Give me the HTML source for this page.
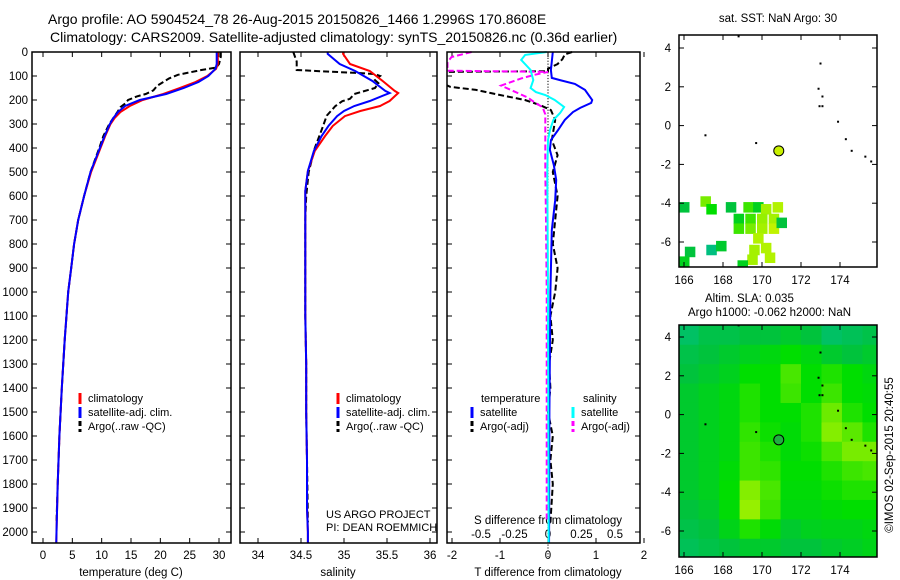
<!DOCTYPE html>
<html><head><meta charset="utf-8">
<style>
html,body{margin:0;padding:0;background:#fff;}
svg{display:block;font-family:"Liberation Sans",Arial,sans-serif;}
</style></head>
<body>
<svg id="c" width="900" height="580" viewBox="0 0 900 580" xmlns="http://www.w3.org/2000/svg">
<text x="48" y="24" font-size="14">Argo profile: AO 5904524_78 26-Aug-2015 20150826_1466 1.2996S 170.8608E</text>
<text x="50" y="42" font-size="14">Climatology: CARS2009. Satellite-adjusted climatology: synTS_20150826.nc (0.36d earlier)</text>
<text x="778" y="22" font-size="11.5" text-anchor="middle">sat. SST: NaN Argo: 30</text>
<text x="705" y="302" font-size="11.5">Altim. SLA: 0.035</text>
<text x="688" y="316" font-size="11.5">Argo h1000: -0.062 h2000: NaN</text>
<text transform="translate(893,455) rotate(-90)" font-size="11.5" text-anchor="middle">©IMOS 02-Sep-2015 20:40:55</text>
<text x="131" y="576" font-size="11.5" text-anchor="middle">temperature (deg C)</text>
<text x="338" y="576" font-size="11.5" text-anchor="middle">salinity</text>
<text x="548" y="576" font-size="11.5" text-anchor="middle">T difference from climatology</text>
<text x="548" y="524" font-size="11.5" text-anchor="middle">S difference from climatology</text>
<text x="326" y="518" font-size="11">US ARGO PROJECT</text>
<text x="326" y="531" font-size="11">PI: DEAN ROEMMICH</text>
</svg>
<script>
// ---- data ----
const depthTicks=[0,100,200,300,400,500,600,700,800,900,1000,1100,1200,1300,1400,1500,1600,1700,1800,1900,2000];
const tempTicks=[0,5,10,15,20,25,30];
const salTicks=[34,34.5,35,35.5,36];
const tdiffTicks=[-2,-1,0,1,2];
const sdiffTicks=[-0.5,-0.25,0,0.25,0.5];
const sdiffTickLabels=["-0.5","-0.25","0","0.25","0.5"];
const lonTicks=[166,168,170,172,174];
const latTicks=[4,2,0,-2,-4,-6];

const climTDepth=[0,50,70,100,125,150,175,200,225,250,275,300,350,400,500,600,700,800,900,1000,1200,1400,1600,1800,2000,2120];
const climT=[29.8,29.8,29.5,28,26,23.3,20.5,17,14.8,13.2,12.2,11.5,10.6,9.8,8.2,7,6,5.3,4.8,4.3,3.7,3.2,2.8,2.5,2.3,2.2];
const satT=[29.6,29.6,29.4,28.2,26.5,24,21,16.5,14,12.8,12,11.4,10.5,9.7,8.1,7,6,5.3,4.8,4.3,3.7,3.2,2.8,2.5,2.3,2.2];
const argoTDepth=[0,20,50,65,75,85,95,110,125,140,160,175,185,200,215,230,250,275,300,350,400,500,600,700,800,900,1000,1200,1400,1600,1800,1960];
const argoT=[30.3,30.3,30,29.5,27,25,23,21.5,20.5,19.5,18.8,17.5,16,14.5,14,13.2,12.7,12,11.3,10.3,9.6,8.1,7,6,5.3,4.8,4.3,3.7,3.2,2.8,2.5,2.3];

const climSDepth=[0,8,50,79,121,162,171,204,225,246,267,308,350,412,496,579,704,900,1100,1300,1500,1700,1900,2000,2120];
const climS=[34.99,34.99,35.07,35.3,35.45,35.59,35.63,35.53,35.42,35.19,35.01,34.87,34.78,34.66,34.58,34.55,34.55,34.55,34.55,34.56,34.56,34.57,34.57,34.58,34.58];
const satS=[34.81,34.81,34.95,35.13,35.33,35.48,35.53,35.3,35.12,35.0,34.92,34.82,34.74,34.65,34.58,34.55,34.55,34.55,34.55,34.56,34.56,34.57,34.57,34.58,34.58];
const argoSDepth=[0,40,75,80,88,92,100,117,130,150,175,195,205,225,265,325,400,500,600,700,900,1100,1300,1500,1700,1960];
const argoS=[34.41,34.45,34.45,34.72,35.19,35.36,35.42,35.36,35.4,35.36,35.12,35.07,34.98,34.9,34.8,34.74,34.66,34.59,34.56,34.55,34.55,34.55,34.56,34.56,34.57,34.58];

const satTdDepth=[0,75,108,117,133,158,200,212,233,250,283,325,367,408,471,533,617,742,1000,1500,2120];
const satTd=[0.1,0.06,0.08,0.25,0.56,0.77,0.92,0.9,0.67,0.52,0.35,0.21,0.06,0.04,0.12,0.17,0.15,0.08,0.05,0.03,0.02];
const satSdDepth=[0,12,33,75,117,150,167,179,200,229,254,283,325,367,500,1000,2120];
const satSd=[-0.01,-0.17,-0.2,-0.13,-0.11,-0.13,-0.09,-0.02,0.05,0.12,0.09,0.04,0.015,0,-0.005,0,0.005];
const argoTdDepth=[0,10,30,50,70,80,83,130,145,158,179,200,221,242,283,367,430,500,600,700,800,900,1000,1100,1200,1300,1400,1500,1600,1700,1800,1960];
const argoTd=[0.5,0.35,0.3,0.2,0.0,0.0,-2.2,-2.2,-2.04,-1.5,-1.0,-0.48,-0.17,0.06,0.15,0.08,0.2,0.1,0.2,0.15,0.1,0.2,0.15,0.05,0.1,0.02,0.05,0.0,0.1,0.05,0.1,0.05];
const argoSdDepth=[0,21,42,78,83,95,110,140,165,190,210,230,260,300,500,700,1000,1500,1960];
const argoSd=[-0.57,-0.72,-0.75,-0.75,0.0,-0.1,-0.2,-0.35,-0.25,-0.15,-0.1,-0.04,-0.02,-0.02,-0.02,-0.015,-0.01,-0.01,-0.01];

const sstLon=[166,167.1,167.4,168.4,169.3,169.8,170.2,170.8,168.8,169.4,170,170.6,168.8,169.4,170,170.6,169.8,170.2,169.6,170.4,169.5,169.0,166.3,166,167.4,167.9,171];
const sstLat=[-4.2,-3.9,-4.3,-4.2,-4.2,-4.2,-4.3,-4.2,-4.8,-4.8,-4.8,-4.8,-5.3,-5.3,-5.3,-5.3,-5.8,-6.3,-6.4,-6.8,-6.9,-7.2,-6.5,-7,-6.4,-6.2,-5];
const sstVal=[0.3,0.7,0.5,0.3,0.6,0.4,0.8,0.85,0.4,0.6,0.75,0.8,0.6,0.7,0.8,0.9,0.85,0.85,0.8,0.85,0.8,0.4,0.3,0.4,0.05,0.35,0.3];

const slaLats=[4.1,3.1,2.1,1.1,0.1,-0.9,-1.9,-2.9,-3.9,-4.9,-5.9,-6.9];
const slaGrid=[
[0.15,0.25,0.25,0.3,0.3,0.35,0.3,0.15,0.2,0.25],
[0.25,0.3,0.35,0.4,0.45,0.5,0.45,0.35,0.3,0.35],
[0.3,0.35,0.4,0.5,0.5,0.62,0.5,0.55,0.5,0.45],
[0.35,0.4,0.45,0.55,0.5,0.6,0.5,0.6,0.5,0.48],
[0.35,0.4,0.45,0.55,0.5,0.5,0.55,0.68,0.55,0.5],
[0.35,0.4,0.45,0.58,0.52,0.48,0.55,0.72,0.65,0.55],
[0.35,0.4,0.45,0.6,0.55,0.48,0.52,0.62,0.7,0.7],
[0.35,0.4,0.48,0.6,0.58,0.5,0.5,0.55,0.6,0.62],
[0.35,0.4,0.5,0.72,0.62,0.48,0.48,0.52,0.55,0.55],
[0.3,0.35,0.48,0.75,0.6,0.45,0.45,0.48,0.5,0.5],
[0.25,0.3,0.42,0.55,0.48,0.35,0.4,0.42,0.42,0.45],
[0.2,0.25,0.3,0.35,0.35,0.3,0.3,0.35,0.38,0.42]];
const slaLonStart=165.7;
const floatLon=170.86, floatLat=-1.3;

// ---- drawing ----
const svg=document.getElementById('c');
const NS='http://www.w3.org/2000/svg';
function mk(tag,at,parent){const e=document.createElementNS(NS,tag);for(const k in at)e.setAttribute(k,at[k]);(parent||svg).appendChild(e);return e;}
const yD=d=>52+0.24*d;
const xT=v=>43+5.867*v;
const xS=v=>258+86*(v-34);
const xTd=v=>548+48*v;
const xSd=v=>548+134*v;
const TOP=52,BOT=543;

function cmap(v){
  const stops=[[0,[0,190,140]],[0.3,[0,195,60]],[0.5,[0,222,0]],[0.75,[150,240,0]],[1,[220,245,0]]];
  v=Math.max(0,Math.min(1,v));
  for(let i=1;i<stops.length;i++){if(v<=stops[i][0]){const a=stops[i-1],b=stops[i],t=(v-a[0])/(b[0]-a[0]);
    return 'rgb('+a[1].map((c,j)=>Math.round(c+(b[1][j]-c)*t)).join(',')+')';}}
  return 'rgb(220,245,0)';
}

function panelFrame(x0,x1,name,xfn,ticks,labels,showDepth){
  const g=mk('g',{});
  
  
  const clip=mk('clipPath',{id:'clip-'+name},g);
  mk('rect',{x:x0,y:TOP-1,width:x1-x0,height:BOT-TOP+1},clip);
  depthTicks.forEach(d=>{
    mk('line',{x1:x0,x2:x0+5,y1:yD(d),y2:yD(d),stroke:'#000'},g);
    mk('line',{x1:x1-5,x2:x1,y1:yD(d),y2:yD(d),stroke:'#000'},g);
    if(showDepth){const t=mk('text',{x:x0-4,y:yD(d)+4,'font-size':11.5,'text-anchor':'end'},g);t.textContent=d;
      
      }
  });
  if(xfn){ticks.forEach((v,i)=>{const x=xfn(v);
    mk('line',{x1:x,x2:x,y1:BOT,y2:BOT-5,stroke:'#000'},g);
    mk('line',{x1:x,x2:x,y1:TOP,y2:TOP+5,stroke:'#000'},g);
    const t=mk('text',{x:x,y:BOT+16,'font-size':11.5,'text-anchor':'middle'},g);t.textContent=labels?labels[i]:v;
    
    
  });}
  return g;
}
function series(g,name,xfn,depths,vals,color,dash,clipName){
  const pts=depths.map((d,i)=>xfn(vals[i]).toFixed(1)+','+yD(d).toFixed(1)).join(' ');
  const p=mk('polyline',{points:pts,fill:'none',stroke:color,'stroke-width':2,'stroke-dasharray':dash||'none','clip-path':'url(#clip-'+clipName+')'},g);
  
  
}
function box(g,x0,y0,x1,y1){mk('rect',{x:x0,y:y0,width:x1-x0,height:y1-y0,fill:'none',stroke:'#000','stroke-width':1.5},g);}
function legend(g,x,y,items){items.forEach((it,i)=>{
  const yy=y+i*14;
  mk('line',{x1:x,x2:x,y1:yy-9,y2:yy+2,stroke:it[0],'stroke-width':3,'stroke-dasharray':it[2]?'5,3':'none'},g);
  const t=mk('text',{x:x+8,y:yy,'font-size':11},g);t.textContent=it[1];
  
  
});}

// Panel 1 temperature
const g1=panelFrame(32,231,'temperature-panel',xT,tempTicks,null,true);
series(g1,'argo-temperature',xT,argoTDepth,argoT,'#000','6,3','temperature-panel');
series(g1,'climatology-temperature',xT,climTDepth,climT,'#f00',null,'temperature-panel');
series(g1,'satellite-temperature',xT,climTDepth,satT,'#00f',null,'temperature-panel');
box(g1,32,TOP,231,BOT);
legend(g1,80,402,[['#f00','climatology'],['#00f','satellite-adj. clim.'],['#000','Argo(..raw -QC)',1]]);

// Panel 2 salinity
const g2=panelFrame(240,437,'salinity-panel',xS,salTicks,null,false);
series(g2,'argo-salinity',xS,argoSDepth,argoS,'#000','6,3','salinity-panel');
series(g2,'climatology-salinity',xS,climSDepth,climS,'#f00',null,'salinity-panel');
series(g2,'satellite-salinity',xS,climSDepth,satS,'#00f',null,'salinity-panel');
box(g2,240,TOP,437,BOT);
legend(g2,338,402,[['#f00','climatology'],['#00f','satellite-adj. clim.'],['#000','Argo(..raw -QC)',1]]);

// Panel 3 differences
const g3=panelFrame(447,640,'difference-panel',xTd,tdiffTicks,null,false);
sdiffTicks.forEach((v,i)=>{const t=mk('text',{x:xSd(v),y:538,'font-size':11.5,'text-anchor':'middle'},g3);t.textContent=sdiffTickLabels[i];
  
  });
for(let d=0;d<=2100;d+=12){mk('rect',{x:547.5,y:yD(d),width:1,height:1.2,fill:'#000'},g3);}
series(g3,'argo-t-diff',xTd,argoTdDepth,argoTd,'#000','6,3','difference-panel');
series(g3,'argo-s-diff',xSd,argoSdDepth,argoSd,'#f0f','6,3','difference-panel');
series(g3,'satellite-t-diff',xTd,satTdDepth,satTd,'#00f',null,'difference-panel');
series(g3,'satellite-s-diff',xSd,satSdDepth,satSd,'#0ff',null,'difference-panel');
box(g3,447,TOP,640,BOT);
{const t=mk('text',{x:481,y:402,'font-size':11},g3);t.textContent='temperature';
 
 
 const s=mk('text',{x:583,y:402,'font-size':11},g3);s.textContent='salinity';
 
 }
legend(g3,472,416,[['#00f','satellite'],['#000','Argo(-adj)',1]]);
legend(g3,573,416,[['#0ff','satellite'],['#f0f','Argo(-adj)',1]]);

// Maps
const MX0=679,MX1=877;
const lonX=l=>684+19.5*(l-166);
function mapFrame(name,y0,y1,lat0y){
  const latY=l=>lat0y-19.4*l;
  const g=mk('g',{});
  
  
  const clip=mk('clipPath',{id:'clip-'+name},g);
  mk('rect',{x:MX0,y:y0,width:MX1-MX0,height:y1-y0},clip);
  return {g,latY,y0,y1,clipName:name};
}
function mapAxes(m){
  const g=m.g;
  lonTicks.forEach(l=>{const x=lonX(l);
    mk('line',{x1:x,x2:x,y1:m.y0,y2:m.y0+5,stroke:'#000'},g);
    mk('line',{x1:x,x2:x,y1:m.y1,y2:m.y1-5,stroke:'#000'},g);
    const t=mk('text',{x:x,y:m.y1+17,'font-size':11.5,'text-anchor':'middle'},g);t.textContent=l;
    
    });
  latTicks.forEach(l=>{const y=m.latY(l);
    mk('line',{x1:MX0,x2:MX0+5,y1:y,y2:y,stroke:'#000'},g);
    mk('line',{x1:MX1-5,x2:MX1,y1:y,y2:y,stroke:'#000'},g);
    const t=mk('text',{x:671,y:y+4,'font-size':11.5,'text-anchor':'end'},g);t.textContent=l;
    
    });
  box(g,MX0,m.y0,MX1,m.y1);
}
const coastLon=[173.0,172.9,173.1,172.95,173.1,173.9,174.3,174.6,175.3,175.6,167.1,169.7,168.8];
const coastLat=[3.2,1.9,1.5,1.0,1.0,0.2,-0.7,-1.3,-1.6,-1.85,-0.5,-0.9,4.6];

const m1=mapFrame('sst-map',35,267,125.6);
sstLon.forEach((l,i)=>{const r=mk('rect',{x:lonX(l)-5,y:m1.latY(sstLat[i])-5,width:10.5,height:10.5,fill:cmap(sstVal[i]),'clip-path':'url(#clip-sst-map)'},m1.g);
  
  });
coastLon.forEach((l,i)=>mk('rect',{x:lonX(l)-1,y:m1.latY(coastLat[i])-1,width:2,height:2,fill:'#000','clip-path':'url(#clip-sst-map)'},m1.g));
{const c=mk('circle',{cx:lonX(floatLon),cy:m1.latY(floatLat),r:5,fill:'#c8f000',stroke:'#000'},m1.g);
 
 }
mapAxes(m1);

const m2=mapFrame('sla-map',325,557,414.6);
slaGrid.forEach((row,ri)=>row.forEach((v,ci)=>{
  const x=lonX(slaLonStart+ci*1.05), y=m2.latY(slaLats[ri]+0.5);
  const r=mk('rect',{x:x,y:y,width:21,height:20.5,fill:cmap(v),'clip-path':'url(#clip-sla-map)'},m2.g);
  
  
}));
coastLon.forEach((l,i)=>mk('rect',{x:lonX(l)-1,y:m2.latY(coastLat[i])-1,width:2,height:2,fill:'#000','clip-path':'url(#clip-sla-map)'},m2.g));
{const c=mk('circle',{cx:lonX(floatLon),cy:m2.latY(floatLat),r:5,fill:'#20b040',stroke:'#000'},m2.g);
 
 }
mapAxes(m2);
</script>
</body></html>
